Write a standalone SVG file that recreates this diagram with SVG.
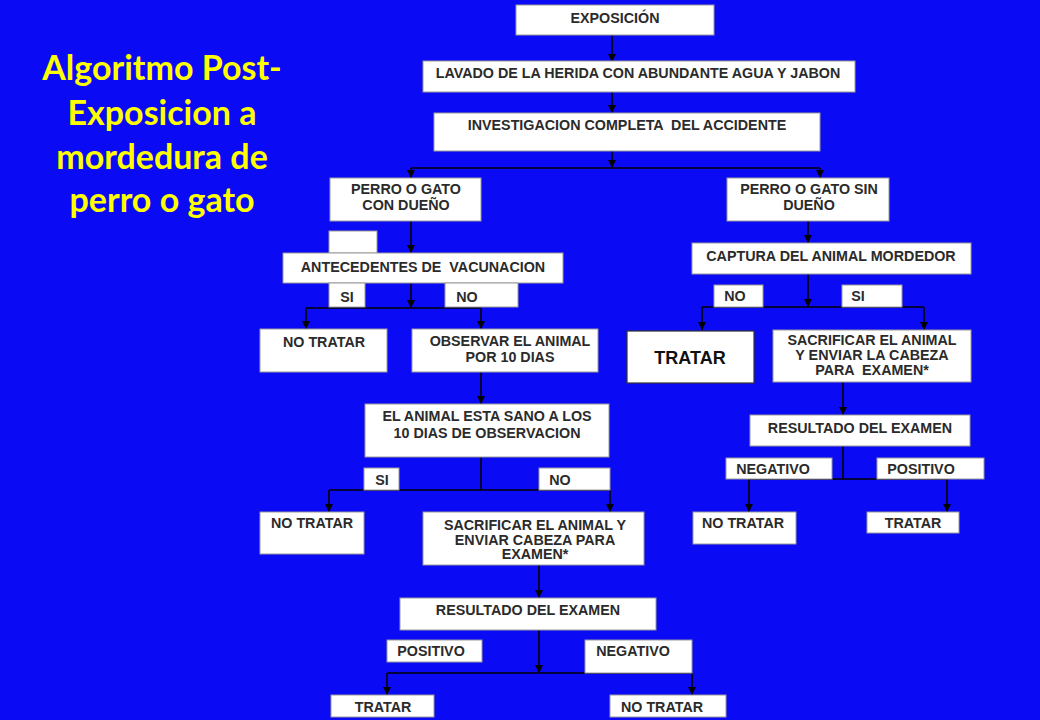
<svg xmlns="http://www.w3.org/2000/svg" width="1040" height="720" viewBox="0 0 1040 720">
<style>
.bx{fill:#ffffff;stroke:#9a9a9a;stroke-width:1}
.t{font-family:"Liberation Sans",Arial,sans-serif;font-weight:bold;font-size:14.3px;fill:#2b2b2b;text-anchor:middle}
.ttl{font-family:Lato,"Open Sans",sans-serif;font-weight:bold;font-size:34px;fill:#ffff00;text-anchor:middle}
.c{fill:none;stroke:#000000;stroke-width:1.6}
</style>
<defs>
<marker id="ah" viewBox="0 0 8 8" refX="8" refY="4" markerWidth="8" markerHeight="8" markerUnits="userSpaceOnUse" orient="auto">
<path d="M0,0 L8,4 L0,8 z" fill="#000"/>
</marker>
</defs>
<rect width="1040" height="720" fill="#0a0af5"/>
<g id="title">
<text class="ttl" x="162" y="80">Algoritmo Post-</text>
<text class="ttl" x="162" y="125">Exposicion a</text>
<text class="ttl" x="162" y="169">mordedura de</text>
<text class="ttl" x="162" y="212">perro o gato</text>
</g>
<g id="connectors">
<path class="c" d="M612,35 V62" marker-end="url(#ah)"/>
<path class="c" d="M612,92 V113" marker-end="url(#ah)"/>
<path class="c" d="M612,151 V168" marker-end="url(#ah)"/>
<path class="c" d="M411,168 H820"/>
<path class="c" d="M411,168 V178" marker-end="url(#ah)"/>
<path class="c" d="M820,168 V178" marker-end="url(#ah)"/>
<path class="c" d="M411,221 V253" marker-end="url(#ah)"/>
<path class="c" d="M411,283 V308" marker-end="url(#ah)"/>
<path class="c" d="M306,308 H481"/>
<path class="c" d="M306,308 V329" marker-end="url(#ah)"/>
<path class="c" d="M481,308 V329" marker-end="url(#ah)"/>
<path class="c" d="M481,372 V404" marker-end="url(#ah)"/>
<path class="c" d="M481,457 V490"/>
<path class="c" d="M329,490 H610"/>
<path class="c" d="M329,490 V512" marker-end="url(#ah)"/>
<path class="c" d="M610,490 V512" marker-end="url(#ah)"/>
<path class="c" d="M539,565 V598" marker-end="url(#ah)"/>
<path class="c" d="M539,630 V673" marker-end="url(#ah)"/>
<path class="c" d="M387,673 H692"/>
<path class="c" d="M387,673 V695" marker-end="url(#ah)"/>
<path class="c" d="M692,673 V695" marker-end="url(#ah)"/>
<path class="c" d="M808,221 V243" marker-end="url(#ah)"/>
<path class="c" d="M808,274 V307" marker-end="url(#ah)"/>
<path class="c" d="M702,307 H924"/>
<path class="c" d="M702,307 V330" marker-end="url(#ah)"/>
<path class="c" d="M924,307 V330" marker-end="url(#ah)"/>
<path class="c" d="M843,382 V415" marker-end="url(#ah)"/>
<path class="c" d="M843,446 V479"/>
<path class="c" d="M749,479 H947"/>
<path class="c" d="M749,479 V512" marker-end="url(#ah)"/>
<path class="c" d="M947,479 V512" marker-end="url(#ah)"/>
</g>
<g id="n-exposicion"><rect class="bx" x="516" y="5" width="198" height="30"/><text class="t" x="615" y="23">EXPOSICIÓN</text></g>
<g id="n-lavado"><rect class="bx" x="423" y="61" width="432" height="31"/><text class="t" x="638" y="78">LAVADO DE LA HERIDA CON ABUNDANTE AGUA Y JABON</text></g>
<g id="n-investigacion"><rect class="bx" x="434" y="113" width="386" height="38"/><text class="t" x="627" y="130" xml:space="preserve">INVESTIGACION COMPLETA  DEL ACCIDENTE</text></g>
<g id="n-con-dueno"><rect class="bx" x="330" y="178" width="151" height="43"/><text class="t" x="406" y="194">PERRO O GATO</text><text class="t" x="406" y="210">CON DUEÑO</text></g>
<g id="n-blank"><rect class="bx" x="329" y="231" width="48" height="22"/></g>
<g id="n-antecedentes"><rect class="bx" x="283" y="253" width="280" height="30"/><text class="t" x="423" y="272" xml:space="preserve">ANTECEDENTES DE  VACUNACION</text></g>
<g id="l-si-1"><rect class="bx" x="329" y="283" width="36" height="24"/><text class="t" x="347" y="302">SI</text></g>
<g id="l-no-1"><rect class="bx" x="445" y="283" width="73" height="24"/><text class="t" x="467" y="302">NO</text></g>
<g id="n-no-tratar-1"><rect class="bx" x="260" y="329" width="127" height="43"/><text class="t" x="324" y="347">NO TRATAR</text></g>
<g id="n-observar"><rect class="bx" x="412" y="329" width="186" height="43"/><text class="t" x="510" y="346">OBSERVAR EL ANIMAL</text><text class="t" x="510" y="362">POR 10 DIAS</text></g>
<g id="n-sano"><rect class="bx" x="365" y="404" width="244" height="53"/><text class="t" x="487" y="421">EL ANIMAL ESTA SANO A LOS</text><text class="t" x="487" y="438">10 DIAS DE OBSERVACION</text></g>
<g id="l-si-2"><rect class="bx" x="364" y="468" width="35" height="22"/><text class="t" x="382" y="485">SI</text></g>
<g id="l-no-2"><rect class="bx" x="539" y="468" width="71" height="22"/><text class="t" x="560" y="485">NO</text></g>
<g id="n-no-tratar-2"><rect class="bx" x="260" y="512" width="104" height="42"/><text class="t" x="312" y="528">NO TRATAR</text></g>
<g id="n-sacrificar-1"><rect class="bx" x="423" y="512" width="221" height="53"/><text class="t" x="535" y="530">SACRIFICAR EL ANIMAL Y</text><text class="t" x="535" y="545">ENVIAR CABEZA PARA</text><text class="t" x="535" y="559">EXAMEN*</text></g>
<g id="n-resultado-1"><rect class="bx" x="400" y="598" width="256" height="32"/><text class="t" x="528" y="615">RESULTADO DEL EXAMEN</text></g>
<g id="l-positivo-1"><rect class="bx" x="387" y="640" width="95" height="22"/><text class="t" x="431" y="656">POSITIVO</text></g>
<g id="l-negativo-1"><rect class="bx" x="585" y="640" width="107" height="33"/><text class="t" x="633" y="656">NEGATIVO</text></g>
<g id="n-tratar-1"><rect class="bx" x="331" y="695" width="103" height="22"/><text class="t" x="383" y="712">TRATAR</text></g>
<g id="n-no-tratar-3"><rect class="bx" x="610" y="695" width="116" height="22"/><text class="t" x="662" y="712">NO TRATAR</text></g>
<g id="n-sin-dueno"><rect class="bx" x="727" y="178" width="162" height="43"/><text class="t" x="809" y="194">PERRO O GATO SIN</text><text class="t" x="809" y="210">DUEÑO</text></g>
<g id="n-captura"><rect class="bx" x="692" y="243" width="279" height="31"/><text class="t" x="831" y="261">CAPTURA DEL ANIMAL MORDEDOR</text></g>
<g id="l-no-3"><rect class="bx" x="714" y="285" width="49" height="22"/><text class="t" x="735" y="301">NO</text></g>
<g id="l-si-3"><rect class="bx" x="842" y="285" width="60" height="22"/><text class="t" x="858" y="301">SI</text></g>
<g id="n-tratar-main"><rect x="627" y="331" width="127" height="52" fill="#ffffff" stroke="#333333" stroke-width="1.2"/><text x="690" y="364" font-family="Liberation Sans,Arial,sans-serif" font-weight="bold" font-size="18" fill="#111111" text-anchor="middle">TRATAR</text></g>
<g id="n-sacrificar-2"><rect class="bx" x="773" y="330" width="198" height="52"/><text class="t" x="872" y="345">SACRIFICAR EL ANIMAL</text><text class="t" x="872" y="360">Y ENVIAR LA CABEZA</text><text class="t" x="872" y="375" xml:space="preserve">PARA  EXAMEN*</text></g>
<g id="n-resultado-2"><rect class="bx" x="750" y="415" width="220" height="31"/><text class="t" x="860" y="433">RESULTADO DEL EXAMEN</text></g>
<g id="l-negativo-2"><rect class="bx" x="726" y="458" width="106" height="21"/><text class="t" x="773" y="474">NEGATIVO</text></g>
<g id="l-positivo-2"><rect class="bx" x="877" y="458" width="107" height="21"/><text class="t" x="921" y="474">POSITIVO</text></g>
<g id="n-no-tratar-4"><rect class="bx" x="693" y="512" width="103" height="32"/><text class="t" x="743" y="528">NO TRATAR</text></g>
<g id="n-tratar-2"><rect class="bx" x="867" y="512" width="92" height="21"/><text class="t" x="913" y="528">TRATAR</text></g>
</svg>
